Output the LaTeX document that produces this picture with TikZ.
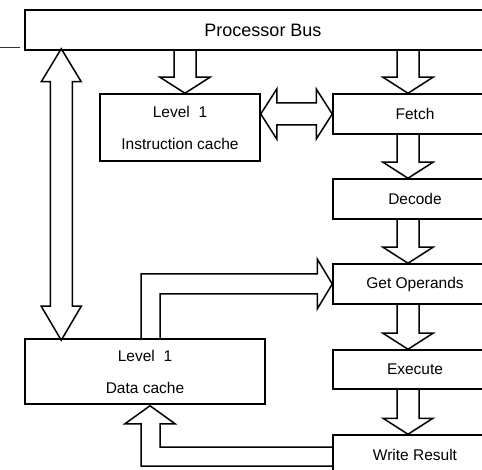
\documentclass[tikz,border=0pt]{standalone}
\usepackage{fontspec}
\setmainfont{Liberation Sans}
\usetikzlibrary{calc}
\newcommand\fatdown[2]{%
  \draw[fat] let \p1=#1, \p2=#2 in
    ({\x1-11pt},\y1) -- ({\x1-11pt},{\y2+16pt}) -- ({\x1-25pt},{\y2+16pt}) -- (\x1,\y2)
    -- ({\x1+25pt},{\y2+16pt}) -- ({\x1+11pt},{\y2+16pt}) -- ({\x1+11pt},\y1);}
\begin{document}
\begin{tikzpicture}[x=1pt,y=-1pt,
  box/.style={draw,line width=1.5pt,inner sep=0pt,align=center,
    font=\fontsize{15.5}{32}\selectfont},
  fat/.style={draw,line width=1.5pt,line join=miter}]
\useasboundingbox (0,0) rectangle (482,470);
% boxes
\node[box,minimum width=476pt,minimum height=40pt,font=\fontsize{18}{20}\selectfont] (bus) at (263,30) {Processor Bus};
\node[box,minimum width=160pt,minimum height=67pt] (icache) at (180,127.5) {Level\ \ 1\\Instruction cache};
\node[box,minimum width=164pt,minimum height=40pt] (fetch) at (415,114) {Fetch};
\node[box,minimum width=164pt,minimum height=40pt] (decode) at (415,199) {Decode};
\node[box,minimum width=164pt,minimum height=40pt] (getop) at (415,284) {Get Operands};
\node[box,minimum width=164pt,minimum height=39pt] (execute) at (415,369.5) {Execute};
\node[box,minimum width=164pt,minimum height=40pt] (write) at (415,455) {Write Result};
\node[box,minimum width=240pt,minimum height=65pt] (dcache) at (145,371.5) {Level\ \ 1\\Data cache};
% stray line at left
\draw[line width=0.8pt,black!80] (0,47) -- (20,47);
% vertical fat arrows
\fatdown{($(bus.south -| icache.north)+(5,0)$)}{($(icache.north)+(5,0)$)}
\fatdown{($(bus.south -| fetch.north)+(-7,0)$)}{($(fetch.north)+(-7,0)$)}
\fatdown{($(fetch.south)+(-7,0)$)}{($(decode.north)+(-7,0)$)}
\fatdown{($(decode.south)+(-7,0)$)}{($(getop.north)+(-7,0)$)}
\fatdown{($(getop.south)+(-7,0)$)}{($(execute.north)+(-7,0)$)}
\fatdown{($(execute.south)+(-7,0)$)}{($(write.north)+(-7,0)$)}
% double horizontal arrow icache <-> fetch
\draw[fat] let \p1=(icache.east), \p2=(fetch.west) in
  (\x1,\y2) -- ({\x1+16pt},{\y2+25pt}) -- ({\x1+16pt},{\y2+11pt}) -- ({\x2-16pt},{\y2+11pt})
  -- ({\x2-16pt},{\y2+25pt}) -- (\x2,\y2) -- ({\x2-16pt},{\y2-25pt}) -- ({\x2-16pt},{\y2-11pt})
  -- ({\x1+16pt},{\y2-11pt}) -- ({\x1+16pt},{\y2-25pt}) -- cycle;
% double vertical arrow bus <-> dcache
\draw[fat] let \p1=($(bus.south west)+(37,-2)$), \p2=($(dcache.north)+(0,2)$) in
  (\x1,\y1) -- ({\x1+20pt},{\y1-33pt}) -- ({\x1+11pt},{\y1-33pt}) -- ({\x1+11pt},{\y2+34pt})
  -- ({\x1+20pt},{\y2+34pt}) -- (\x1,\y2) -- ({\x1-20pt},{\y2+34pt}) -- ({\x1-11pt},{\y2+34pt})
  -- ({\x1-11pt},{\y1-33pt}) -- ({\x1-20pt},{\y1-33pt}) -- cycle;
% bent arrow dcache -> getop
\draw[fat] let \p1=(dcache.north), \p2=(getop.west) in
  ({\x1-4pt},\y1) -- ({\x1-4pt},{\y2+10pt}) -- ({\x2-15pt},{\y2+10pt}) -- ({\x2-15pt},{\y2+25pt})
  -- (\x2,\y2) -- ({\x2-15pt},{\y2-25pt}) -- ({\x2-15pt},{\y2-10pt}) -- ({\x1+15pt},{\y2-10pt})
  -- ({\x1+15pt},\y1);
% bent arrow write -> dcache
\draw[fat] let \p1=(write.west), \p2=(dcache.south) in
  (\x1,{\y1+8pt}) -- ({\x2+15pt},{\y1+8pt}) -- ({\x2+15pt},{\y2-19pt}) -- ({\x2+30pt},{\y2-19pt})
  -- ({\x2+5pt},{\y2-1pt}) -- ({\x2-20pt},{\y2-19pt}) -- ({\x2-4pt},{\y2-19pt})
  -- ({\x2-4pt},{\y1-11pt}) -- (\x1,{\y1-11pt});
\end{tikzpicture}
\end{document}
